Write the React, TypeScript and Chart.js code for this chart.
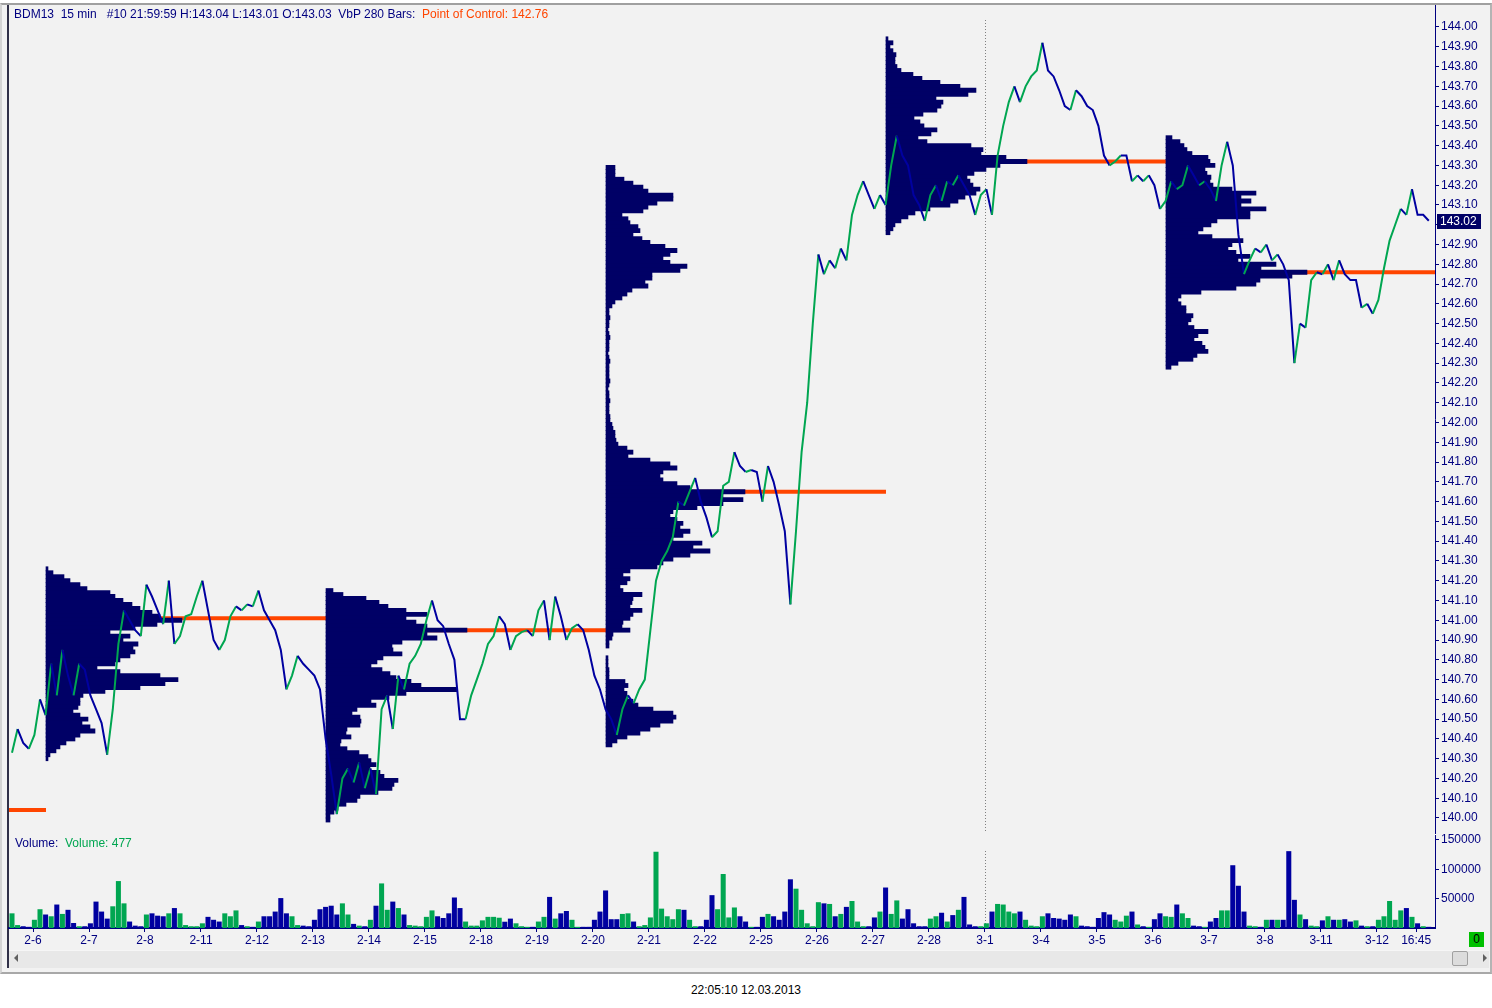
import React, { useEffect, useRef } from "react";
import { Chart, registerables } from "chart.js";

Chart.register(...registerables);

// ---------- axes / labels ----------
const DAY_LABELS = ["2-6", "2-7", "2-8", "2-11", "2-12", "2-13", "2-14", "2-15", "2-18", "2-19", "2-20", "2-21", "2-22", "2-25", "2-26", "2-27", "2-28", "3-1", "3-4", "3-5", "3-6", "3-7", "3-8", "3-11", "3-12", "16:45"];
const DAY_TICKS = [0, 1, 2, 3, 4, 5, 6, 7, 8, 9, 10, 11, 12, 13, 14, 15, 16, 17, 18, 19, 20, 21, 22, 23, 24, 24.7];
const X_MIN = -0.4286;
const X_MAX = 25.036;
const MONTH_MARK = 17; // 3-1
const PRICE_MIN = 139.914;
const PRICE_MAX = 144.111;
const PRICE_TICK_FROM = 140.0;
const PRICE_TICK_TO = 144.0;
const PRICE_TICK_STEP = 0.1;
const VOL_MAX = 158500;
const VOL_TICKS = [50000, 100000, 150000];
const LAST_PRICE = 143.02;

// pixel calibration of the two panes (canvas coordinates)
const PRICE_TOP_TICK_PX = 27; // 144.00
const PRICE_BOTTOM_TICK_PX = 818; // 140.00
const VOL_CANVAS_TOP = 830;
const VOL_ZERO_PX = 98; // 0
const VOL_TOP_TICK_PX = 10; // 150000

// ---------- price series (15 min, sampled every 0.1 day) ----------
const PRICE_START_T = -0.375;
const PRICE_STEP_T = 0.1;
const PRICES = [
  140.33, 140.45, 140.38, 140.35, 140.42, 140.6, 140.52, 140.78, 140.62, 140.85,
  140.72, 140.62, 140.78, 140.75, 140.62, 140.55, 140.48, 140.32, 140.55, 140.88,
  141.05, 141.0, 140.95, 140.92, 141.18, 141.12, 141.05, 140.98, 141.2, 140.88,
  140.92, 141.02, 141.03, 141.12, 141.2, 141.05, 140.9, 140.85, 140.9, 141.02,
  141.07, 141.05, 141.08, 141.07, 141.15, 141.05, 141.0, 140.95, 140.85, 140.65,
  140.72, 140.82, 140.78, 140.75, 140.72, 140.65, 140.4, 140.22, 140.02, 140.2,
  140.25, 140.18, 140.28, 140.15, 140.25, 140.12, 140.55, 140.62, 140.45, 140.72,
  140.65, 140.78, 140.82, 140.88, 141.0, 141.1, 141.0, 140.97, 140.88, 140.8,
  140.5, 140.5, 140.62, 140.7, 140.78, 140.88, 140.92, 141.02, 140.98, 140.85,
  140.92, 140.94, 140.95, 140.92, 141.05, 141.1, 140.9, 141.12, 141.02, 140.9,
  140.96, 140.98, 140.95, 140.85, 140.72, 140.65, 140.55, 140.5, 140.42, 140.55,
  140.62, 140.58, 140.65, 140.7, 140.95, 141.2, 141.3, 141.35, 141.42, 141.6,
  141.58, 141.65, 141.72, 141.6, 141.52, 141.42, 141.45, 141.68, 141.7, 141.85,
  141.78, 141.75, 141.76, 141.75, 141.6, 141.78, 141.7, 141.58, 141.45, 141.08,
  141.45, 141.85, 142.1, 142.5, 142.85, 142.75, 142.82, 142.78, 142.88, 142.82,
  143.05, 143.15, 143.22, 143.15, 143.08, 143.15, 143.1, 143.3, 143.45, 143.35,
  143.3, 143.15, 143.1, 143.02, 143.15, 143.2, 143.12, 143.22, 143.2, 143.25,
  143.2, 143.15, 143.05, 143.15, 143.18, 143.05, 143.35, 143.5, 143.62, 143.7,
  143.62, 143.7, 143.75, 143.78, 143.92, 143.78, 143.75, 143.68, 143.6, 143.58,
  143.68, 143.65, 143.6, 143.58, 143.5, 143.35, 143.3, 143.32, 143.35, 143.35,
  143.22, 143.25, 143.22, 143.25, 143.2, 143.08, 143.12, 143.22, 143.18, 143.2,
  143.3, 143.25, 143.2, 143.22, 143.18, 143.12, 143.3, 143.42, 143.3, 142.95,
  142.75, 142.82, 142.88, 142.86, 142.9, 142.82, 142.85, 142.8, 142.72, 142.3,
  142.5, 142.48, 142.72, 142.76, 142.75, 142.8, 142.72, 142.82, 142.75, 142.72,
  142.72, 142.58, 142.6, 142.55, 142.62, 142.78, 142.92, 143.0, 143.08, 143.05,
  143.18, 143.05, 143.05, 143.02,
];

const VOLUMES = [
  25000, 5000, 3000, 2000, 14000, 32000, 23000, 20000, 40000, 24000,
  31000, 8500, 3000, 3000, 8000, 45000, 28000, 16000, 37000, 80000,
  42000, 11000, 4000, 3000, 23000, 25000, 21000, 20000, 25000, 34000,
  25000, 5000, 3000, 3000, 8000, 19000, 14000, 11000, 25000, 20000,
  30000, 5000, 3000, 2000, 11000, 20000, 20000, 28000, 51000, 25000,
  20000, 5000, 4000, 3000, 14000, 32000, 36000, 38000, 23000, 42000,
  23000, 7000, 4000, 3000, 14000, 38000, 76000, 31000, 45000, 34000,
  23000, 5000, 4000, 3000, 19000, 30000, 20000, 17000, 25000, 52000,
  34000, 11000, 4000, 4000, 13000, 19000, 19000, 17500, 10700, 16000,
  8000, 3000, 2000, 2000, 11000, 19000, 53000, 16000, 25000, 29000,
  14000, 2000, 2000, 2000, 14000, 28000, 64000, 15000, 15000, 24000,
  25000, 11000, 3000, 5000, 18000, 130000, 33000, 20000, 15000, 32000,
  31000, 14000, 3000, 3000, 14000, 56000, 32000, 92000, 18000, 35000,
  20000, 11000, 2000, 2000, 19000, 24000, 20000, 14000, 28000, 83000,
  67000, 31000, 8000, 3000, 44000, 42000, 41000, 20000, 24000, 36000,
  46000, 11000, 3000, 3000, 18000, 28000, 69000, 24000, 47000, 16000,
  32000, 8000, 3000, 3000, 16000, 20000, 26000, 11000, 22000, 31000,
  53000, 6000, 3000, 3000, 8000, 28000, 41000, 40000, 28000, 25000,
  28000, 14000, 4000, 3000, 20000, 25000, 17000, 16000, 14000, 23000,
  20000, 4000, 3000, 2000, 17000, 27000, 23000, 14000, 11000, 21000,
  28000, 6000, 3000, 2000, 15000, 25000, 20000, 19000, 40000, 25000,
  17000, 4000, 3000, 2000, 11000, 17000, 30000, 30000, 107000, 72000,
  28000, 4000, 3000, 2000, 14000, 14000, 14000, 14000, 131000, 48000,
  23000, 15000, 4000, 3000, 13000, 20000, 14000, 14000, 15000, 11000,
  13000, 4000, 3000, 3000, 14000, 20000, 46000, 14000, 30000, 34000,
  19000, 8000, 3000, 2000,
];

// ---------- volume-by-price profiles (280 bars each) ----------
const PROFILE_BIN = 0.02;
const PROFILE_UNITS_PER_DAY = 56;
const PROFILE_STARTS = [0.232, 5.232, 10.232, 15.232, 20.232];
const PROFILE_TOPS = [141.26, 141.15, 143.29, 143.94, 143.44];
const PROFILE_1 = [
  2, 7, 18, 24, 34, 41, 64, 69, 77, 86, 94, 106, 114, 136, 111, 89, 64, 84, 77, 92,
  87, 89, 84, 74, 69, 51, 74, 114, 132, 119, 94, 59, 37, 34, 34, 32, 27, 34, 42, 36,
  44, 49, 34, 29, 20, 14, 10, 4, 2,
];
const PROFILE_2 = [
  7, 17, 40, 53, 62, 80, 101, 80, 90, 101, 141, 101, 111, 76, 66, 67, 76, 57, 51, 45,
  56, 64, 70, 85, 95, 131, 80, 63, 45, 50, 31, 26, 34, 35, 34, 21, 20, 25, 15, 14,
  21, 33, 42, 45, 50, 44, 54, 58, 72, 68, 66, 52, 34, 31, 20, 12, 8, 4, 4,
];
const PROFILE_3 = [
  9, 9, 9, 18, 27, 37, 42, 67, 67, 51, 42, 37, 16, 22, 24, 32, 34, 27, 36, 44,
  59, 71, 64, 57, 64, 81, 74, 46, 46, 39, 42, 26, 21, 16, 9, 6,
  3, 3, 4, 3, 3, 2, 3, 4, 3, 3, 3, 2, 3, 4, 3, 3, 3, 3, 4, 3, 2, 3, 3, 4, 3, 3, 3, 4,
  4, 6, 7, 9, 9, 10, 12, 21, 27, 22, 44, 64, 71, 57, 54, 57, 71, 84, 139, 117,
  137, 117, 91, 67, 64, 71, 77, 74, 84, 77, 67, 96, 87, 104, 84, 67, 57, 51, 24, 17,
  24, 21, 14, 17, 36, 27, 26, 24, 36, 27, 24, 17, 16, 24, 7, 6, 3, 3, 0, 0,
  2, 2, 2, 3, 3, 3, 19, 22, 18, 21, 22, 27, 32, 47, 67, 70, 67, 54, 44, 34,
  21, 11, 6,
];
const PROFILE_4 = [
  2, 7, 4, 7, 10, 9, 9, 11, 15, 27, 36, 54, 74, 90, 82, 50, 57, 55, 51, 37,
  28, 34, 38, 51, 45, 32, 41, 85, 97, 95, 120, 141, 114, 100, 88, 81, 84, 87, 94, 90,
  79, 72, 64, 44, 29, 22, 15, 9, 7, 4,
];
const PROFILE_5 = [
  6, 14, 18, 21, 26, 42, 44, 49, 39, 41, 45, 44, 47, 66, 90, 75, 85, 75, 100, 84,
  84, 51, 45, 37, 32, 46, 77, 66, 62, 70, 84, 72, 110, 95, 141, 126, 94, 90, 70, 35,
  15, 12, 15, 20, 20, 27, 25, 22, 28, 42, 32, 28, 36, 39, 42, 31, 27, 12, 5,
];
const PROFILES = [PROFILE_1, PROFILE_2, PROFILE_3, PROFILE_4, PROFILE_5];

// Point of Control lines
const POC_PRICES = [140.04, 141.01, 140.95, 141.65, 143.32, 142.76];
const POC_FROM = [X_MIN, 0.232, 5.232, 10.232, 15.232, 20.232];
const POC_TO = [0.232, 5.232, 10.232, 15.232, 20.232, X_MAX];

// ---------- style ----------
const NAVY = "#0000a0";
const GREEN = "#00a651";
const PROFILE_NAVY = "#000066";
const POC_RED = "#ff4500";
const AXIS_NAVY = "#000080";
const FONT = '"Liberation Sans", Arial, sans-serif';

const priceTicks = () => {
  const out: { value: number }[] = [];
  const n = Math.round((PRICE_TICK_TO - PRICE_TICK_FROM) / PRICE_TICK_STEP);
  for (let i = 0; i <= n; i++) out.push({ value: +(PRICE_TICK_FROM + i * PRICE_TICK_STEP).toFixed(2) });
  return out;
};

const noPad = (s: any) => {
  s.paddingTop = 0;
  s.paddingBottom = 0;
  s.paddingLeft = 0;
  s.paddingRight = 0;
};

const monthLine = (offsetTop: number) => ({
  id: "monthLine" + offsetTop,
  beforeDatasetsDraw(chart: any) {
    const { ctx, chartArea, scales } = chart;
    const x = Math.round(scales.x.getPixelForValue(MONTH_MARK)) + 0.5;
    ctx.save();
    ctx.strokeStyle = "#808080";
    ctx.lineWidth = 1;
    ctx.setLineDash([1, 2]);
    ctx.beginPath();
    ctx.moveTo(x, chartArea.top + offsetTop);
    ctx.lineTo(x, chartArea.bottom);
    ctx.stroke();
    ctx.restore();
  },
});

const lastPriceBox = {
  id: "lastPriceBox",
  afterDraw(chart: any) {
    const { ctx, scales } = chart;
    const s = scales.y;
    const y = s.getPixelForValue(LAST_PRICE);
    ctx.save();
    ctx.fillStyle = PROFILE_NAVY;
    ctx.fillRect(s.left + 2, Math.round(y) - 7, 44, 15);
    ctx.fillStyle = "#ffffff";
    ctx.font = "12px " + FONT;
    ctx.textBaseline = "middle";
    ctx.textAlign = "left";
    ctx.fillText(LAST_PRICE.toFixed(2), s.left + 5, Math.round(y) + 1);
    ctx.restore();
  },
};

// re-fit a vertical linear scale so that two reference values land on two target pixels
const calibrate = (chart: any, id: string, vLow: number, pxLow: number, vHigh: number, pxHigh: number) => {
  for (let it = 0; it < 3; it++) {
    const s = chart.scales[id];
    const o = chart.options.scales[id];
    const topPx = s.getPixelForValue(s.max);
    const botPx = s.getPixelForValue(s.min);
    const ppu = (pxLow - pxHigh) / (vHigh - vLow);
    o.min = vLow - (botPx - pxLow) / ppu;
    o.max = vHigh + (pxHigh - topPx) / ppu;
    chart.update();
  }
};

export default function App() {
  const priceRef = useRef<HTMLCanvasElement>(null);
  const volRef = useRef<HTMLCanvasElement>(null);

  useEffect(() => {
    Chart.defaults.font.family = FONT;
    const timeAt = (k: number) => +(PRICE_START_T + k * PRICE_STEP_T).toFixed(4);
    const priceData = PRICES.map((p, k) => ({ x: timeAt(k), y: p }));

    const profileSets = PROFILES.map((widths, i) => ({
      type: "bar" as const,
      indexAxis: "y" as const,
      data: widths
        .map((w, j) => ({
          y: +(PROFILE_TOPS[i] - j * PROFILE_BIN).toFixed(2),
          x: [PROFILE_STARTS[i], PROFILE_STARTS[i] + w / PROFILE_UNITS_PER_DAY],
        }))
        .filter((d) => d.x[1] > d.x[0]),
      backgroundColor: PROFILE_NAVY,
      borderWidth: 0,
      barThickness: 4.2,
      grouped: false,
      order: 2,
    }));

    const pocSets = POC_PRICES.map((p, i) => ({
      type: "line" as const,
      data: [
        { x: POC_FROM[i], y: p },
        { x: POC_TO[i], y: p },
      ],
      borderColor: POC_RED,
      borderWidth: 4,
      pointRadius: 0,
      borderCapStyle: "butt" as const,
      order: 3,
    }));

    const priceChart = new Chart(priceRef.current as HTMLCanvasElement, {
      type: "line",
      data: {
        datasets: [
          {
            type: "line",
            data: priceData,
            borderColor: NAVY,
            borderWidth: 2,
            pointRadius: 0,
            tension: 0,
            segment: {
              borderColor: (c: any) => (c.p1.parsed.y > c.p0.parsed.y ? GREEN : NAVY),
            },
            order: 0,
          },
          ...(profileSets as any[]),
          ...(pocSets as any[]),
        ],
      },
      options: {
        responsive: false,
        animation: false,
        events: [],
        layout: { padding: { left: 9, top: 5, right: 0, bottom: 0 } },
        plugins: { legend: { display: false }, tooltip: { enabled: false } },
        scales: {
          x: { type: "linear", min: X_MIN, max: X_MAX, display: false, offset: false },
          y: {
            type: "linear",
            position: "right",
            offset: false,
            min: PRICE_MIN,
            max: PRICE_MAX,
            afterBuildTicks: (s: any) => {
              s.ticks = priceTicks();
            },
            afterFit: (s: any) => {
              s.width = 57;
              noPad(s);
            },
            grid: { offset: false, drawOnChartArea: false, drawTicks: true, tickLength: 4, color: AXIS_NAVY },
            border: { display: true, color: AXIS_NAVY, width: 1 },
            ticks: {
              color: AXIS_NAVY,
              font: { size: 12, family: FONT },
              padding: 2,
              autoSkip: false,
              callback: (v: any) => (Math.abs(Number(v) - LAST_PRICE) < 0.05 ? "" : Number(v).toFixed(2)),
            },
          },
        },
      } as any,
      plugins: [monthLine(15), lastPriceBox],
    });
    calibrate(priceChart, "y", PRICE_TICK_FROM, PRICE_BOTTOM_TICK_PX, PRICE_TICK_TO, PRICE_TOP_TICK_PX);

    const volColors = VOLUMES.map((_, k) => (k > 0 && PRICES[k] < PRICES[k - 1] ? NAVY : GREEN));
    const volChart = new Chart(volRef.current as HTMLCanvasElement, {
      type: "bar",
      data: {
        datasets: [
          {
            data: VOLUMES.map((v, k) => ({ x: timeAt(k), y: v })),
            backgroundColor: volColors,
            borderWidth: 0,
            barPercentage: 0.9,
            categoryPercentage: 1,
          },
        ],
      },
      options: {
        responsive: false,
        animation: false,
        events: [],
        layout: { padding: { left: 9, top: 5, right: 0, bottom: 0 } },
        plugins: { legend: { display: false }, tooltip: { enabled: false } },
        scales: {
          x: {
            type: "linear",
            min: X_MIN,
            max: X_MAX,
            offset: false,
            position: "bottom",
            afterBuildTicks: (s: any) => {
              s.ticks = DAY_TICKS.map((v) => ({ value: v }));
            },
            afterFit: (s: any) => {
              s.height = 22;
              noPad(s);
            },
            grid: { offset: false, drawOnChartArea: false, drawTicks: true, tickLength: 4, color: AXIS_NAVY },
            border: { display: true, color: AXIS_NAVY, width: 2 },
            ticks: {
              color: AXIS_NAVY,
              font: { size: 12, family: FONT },
              padding: 1,
              autoSkip: false,
              maxRotation: 0,
              callback: (_v: any, i: number) => DAY_LABELS[i],
            },
          },
          y: {
            type: "linear",
            position: "right",
            min: 0,
            max: VOL_MAX,
            afterBuildTicks: (s: any) => {
              s.ticks = VOL_TICKS.map((v) => ({ value: v }));
            },
            afterFit: (s: any) => {
              s.width = 57;
              noPad(s);
            },
            grid: { drawOnChartArea: false, drawTicks: true, tickLength: 4, color: AXIS_NAVY },
            border: { display: true, color: AXIS_NAVY, width: 1 },
            ticks: {
              color: AXIS_NAVY,
              font: { size: 12, family: FONT },
              padding: 2,
              autoSkip: false,
              callback: (v: any) => String(v),
            },
          },
        },
      } as any,
      plugins: [monthLine(16)],
    });
    calibrate(volChart, "y", 0, VOL_ZERO_PX, VOL_TICKS[VOL_TICKS.length - 1], VOL_TOP_TICK_PX);

    return () => {
      priceChart.destroy();
      volChart.destroy();
    };
  }, []);

  const abs = (s: React.CSSProperties): React.CSSProperties => ({ position: "absolute", ...s });

  return (
    <div style={abs({ left: 0, top: 0, width: 1492, height: 1008, background: "#ffffff", overflow: "hidden", fontFamily: FONT })}>
      {/* window frame */}
      <div
        style={abs({
          left: 0,
          top: 3,
          width: 1492,
          height: 971,
          boxSizing: "border-box",
          background: "#f2f2f2",
          borderTop: "2px solid #a0a0a0",
          borderLeft: "2px solid #d4d4d4",
          borderRight: "2px solid #b4b4b4",
          borderBottom: "2px solid #a8a8a8",
        })}
      />
      <div style={abs({ left: 7, top: 5, width: 2, height: 963, background: "#303048" })} />
      {/* scrollbar */}
      <div style={abs({ left: 9, top: 950, width: 1480, height: 17, background: "#e8e8e8", borderTop: "1px solid #f6f6f6" })} />
      <div style={abs({ left: 14, top: 954, width: 0, height: 0, borderTop: "4px solid transparent", borderBottom: "4px solid transparent", borderRight: "4px solid #606060" })} />
      <div style={abs({ left: 1483, top: 954, width: 0, height: 0, borderTop: "4px solid transparent", borderBottom: "4px solid transparent", borderLeft: "4px solid #606060" })} />
      <div style={abs({ left: 1452, top: 951, width: 14, height: 13, background: "#dcdcdc", border: "1px solid #a0a0a0", borderRadius: 2 })} />
      {/* green status box */}
      <div style={abs({ left: 1469, top: 932, width: 15, height: 15, background: "#00c000", color: "#000", fontSize: 12, lineHeight: "15px", textAlign: "center" })}>0</div>

      <canvas ref={priceRef} width={1492} height={835} style={abs({ left: 0, top: 0, width: 1492, height: 835 })} />
      <canvas ref={volRef} width={1492} height={120} style={abs({ left: 0, top: VOL_CANVAS_TOP, width: 1492, height: 120 })} />

      {/* header */}
      <div style={abs({ left: 14, top: 7, fontSize: 12, lineHeight: "14px", whiteSpace: "pre", color: AXIS_NAVY })}>
        {"BDM13  15 min   #10 21:59:59 H:143.04 L:143.01 O:143.03  VbP 280 Bars:  "}
        <span style={{ color: POC_RED }}>{"Point of Control: 142.76"}</span>
      </div>
      <div style={abs({ left: 15, top: 836, fontSize: 12, lineHeight: "14px", whiteSpace: "pre", color: AXIS_NAVY })}>
        {"Volume:  "}
        <span style={{ color: GREEN }}>{"Volume: 477"}</span>
      </div>
      {/* footer timestamp */}
      <div style={abs({ left: 0, top: 983, width: 1492, textAlign: "center", fontSize: 12, lineHeight: "14px", color: "#000" })}>
        {"22:05:10 12.03.2013"}
      </div>
    </div>
  );
}
